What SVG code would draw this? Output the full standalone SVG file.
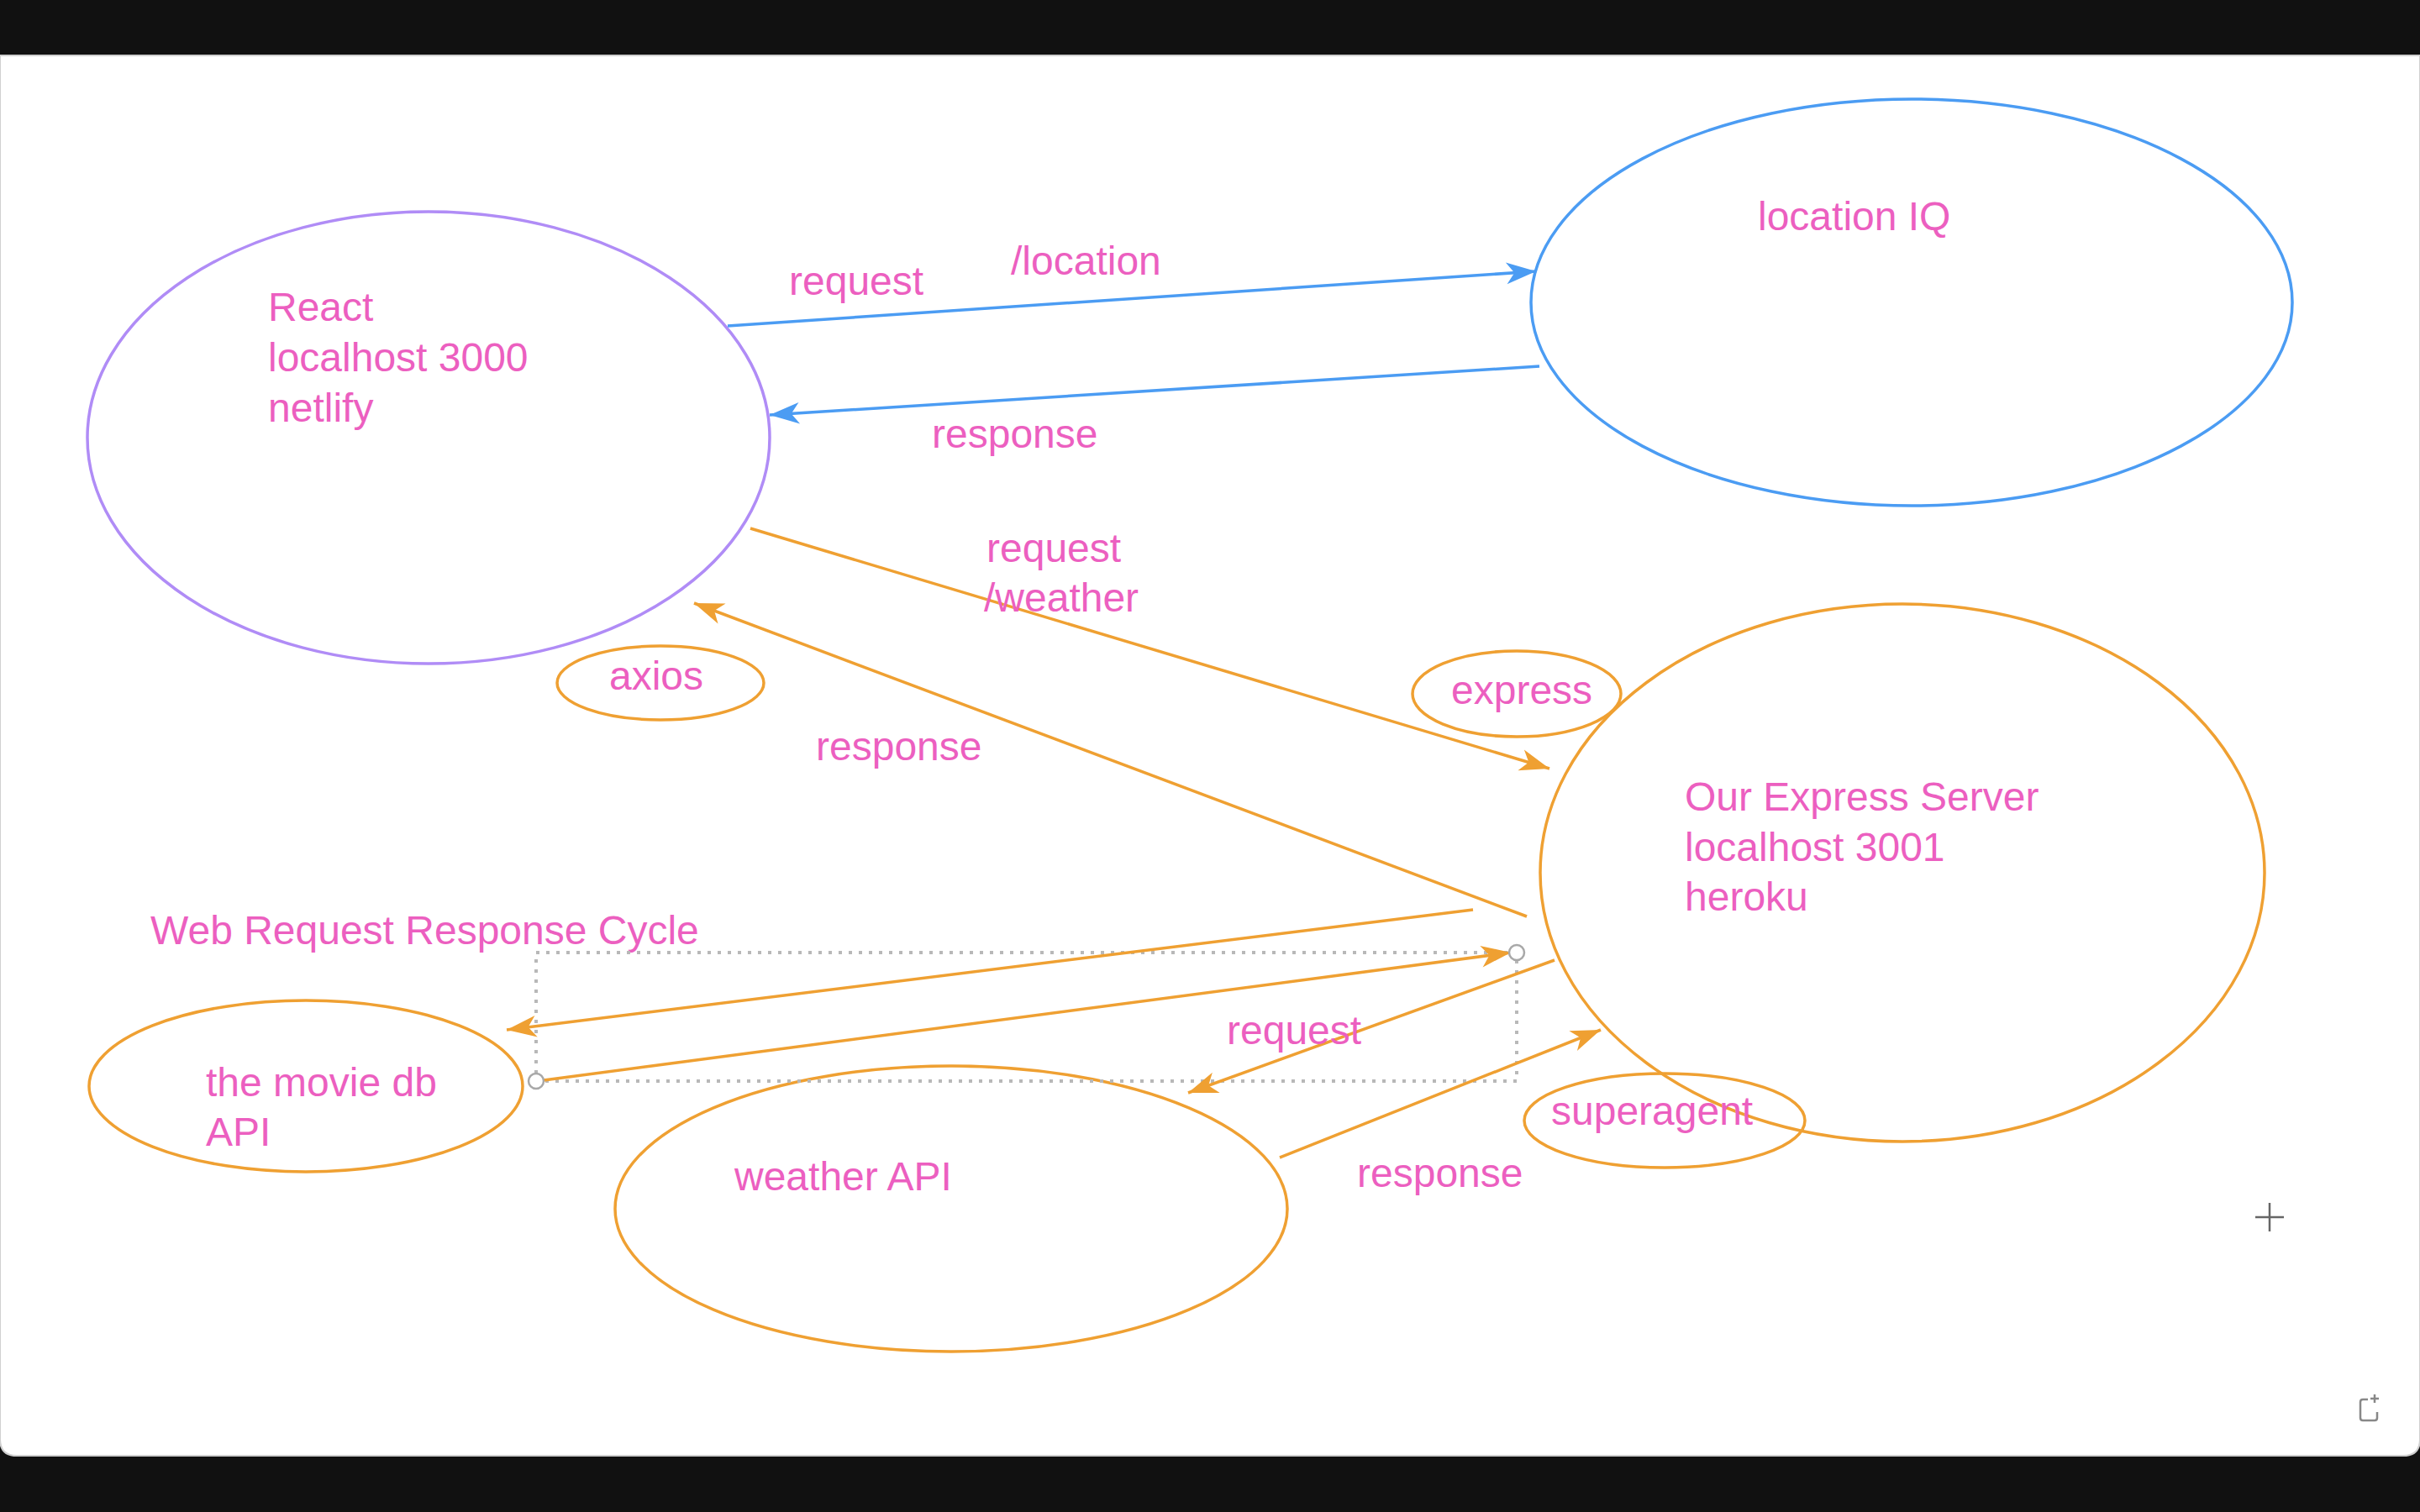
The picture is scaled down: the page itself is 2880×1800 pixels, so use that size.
<svg xmlns="http://www.w3.org/2000/svg" width="2880" height="1800" viewBox="0 0 2880 1800">
<defs>
<style>
.t{font-family:"Liberation Sans",Arial,sans-serif;font-size:48px;fill:#ec5fc0}
.o{fill:none;stroke:#efa032;stroke-width:3.5}
.b{fill:none;stroke:#4b9cf3;stroke-width:3.5}
.p{fill:none;stroke:#b08cf6;stroke-width:3.5}
.dot{fill:none;stroke:#b8b8b8;stroke-width:4;stroke-dasharray:4 8}
.h{fill:#fff;stroke:#a8a8a8;stroke-width:2.5}
</style>
<marker id="ao" markerUnits="userSpaceOnUse" markerWidth="40" markerHeight="30" viewBox="-34 -14 36 28" refX="0" refY="0" orient="auto">
<path d="M-33,-12 L0,0 L-33,12 L-24,0 Z" fill="#efa032"/>
</marker>
<marker id="ab" markerUnits="userSpaceOnUse" markerWidth="40" markerHeight="30" viewBox="-34 -14 36 28" refX="0" refY="0" orient="auto">
<path d="M-33,-12 L0,0 L-33,12 L-24,0 Z" fill="#4b9cf3"/>
</marker>
</defs>
<rect x="0" y="0" width="2880" height="1800" fill="#111111"/>
<path d="M0,66 H2880 V1713 Q2880,1733 2860,1733 H20 Q0,1733 0,1713 Z" fill="#ffffff" stroke="#d0d0d0" stroke-width="2"/>

<g id="react">
<ellipse class="p" cx="510" cy="521" rx="406" ry="269"/>
<text class="t" x="319" y="382">React</text>
<text class="t" x="319" y="442">localhost 3000</text>
<text class="t" x="319" y="502">netlify</text>
</g>
<g id="locationiq">
<ellipse class="b" cx="2275" cy="360" rx="453" ry="242"/>
<text class="t" x="2092" y="274">location IQ</text>
</g>
<g id="server">
<ellipse class="o" cx="2264" cy="1039" rx="431" ry="320"/>
<text class="t" x="2005" y="965">Our Express Server</text>
<text class="t" x="2005" y="1025">localhost 3001</text>
<text class="t" x="2005" y="1084">heroku</text>
</g>
<g id="express">
<ellipse class="o" cx="1805" cy="826" rx="124" ry="51"/>
<text class="t" x="1727" y="838">express</text>
</g>
<g id="axios">
<ellipse class="o" cx="786" cy="813" rx="123" ry="44"/>
<text class="t" x="725" y="821">axios</text>
</g>
<g id="superagent">
<ellipse class="o" cx="1981" cy="1334" rx="167" ry="56"/>
<text class="t" x="1846" y="1339">superagent</text>
</g>
<g id="moviedb">
<ellipse class="o" cx="364" cy="1293" rx="258" ry="102"/>
<text class="t" x="245" y="1305">the movie db</text>
<text class="t" x="245" y="1364">API</text>
</g>
<g id="weatherapi">
<ellipse class="o" cx="1132" cy="1439" rx="400" ry="170"/>
<text class="t" x="874" y="1417">weather API</text>
</g>
<g id="title">
<text class="t" x="179" y="1124">Web Request Response Cycle</text>
</g>

<g id="selection">
<rect class="dot" x="638" y="1134" width="1167" height="153"/>
</g>

<g id="connectors">
<line class="b" x1="866" y1="388" x2="1828" y2="323" marker-end="url(#ab)"/>
<line class="b" x1="1832" y1="436" x2="916" y2="494" marker-end="url(#ab)"/>
<line class="o" x1="893" y1="629" x2="1844" y2="915" marker-end="url(#ao)"/>
<line class="o" x1="1817" y1="1091" x2="826" y2="718" marker-end="url(#ao)"/>
<line class="o" x1="1753" y1="1083" x2="603" y2="1226" marker-end="url(#ao)"/>
<line class="o" x1="647" y1="1286" x2="1798" y2="1134" marker-end="url(#ao)"/>
<line class="o" x1="1850" y1="1143" x2="1414" y2="1301" marker-end="url(#ao)"/>
<line class="o" x1="1523" y1="1378" x2="1905" y2="1226" marker-end="url(#ao)"/>
<text class="t" x="939" y="351">request</text>
<text class="t" x="1203" y="327">/location</text>
<text class="t" x="1109" y="533">response</text>
<text class="t" x="1174" y="669">request</text>
<text class="t" x="1171" y="728">/weather</text>
<text class="t" x="971" y="905">response</text>
<text class="t" x="1460" y="1243">request</text>
<text class="t" x="1615" y="1413">response</text>
</g>

<g id="handles">
<circle class="h" cx="638" cy="1287" r="9"/>
<circle class="h" cx="1805" cy="1134" r="9"/>
</g>

<g id="ui" stroke="#666" stroke-width="2.5" fill="none">
<path d="M2684,1449 H2718 M2701,1432 V1466"/>
<path d="M2818,1666 H2812 Q2809,1666 2809,1669 V1688 Q2809,1691 2812,1691 H2826 Q2829,1691 2829,1688 V1681" stroke="#888"/>
<path d="M2826,1660 V1670 M2821,1665 H2831" stroke="#888"/>
</g>
</svg>
